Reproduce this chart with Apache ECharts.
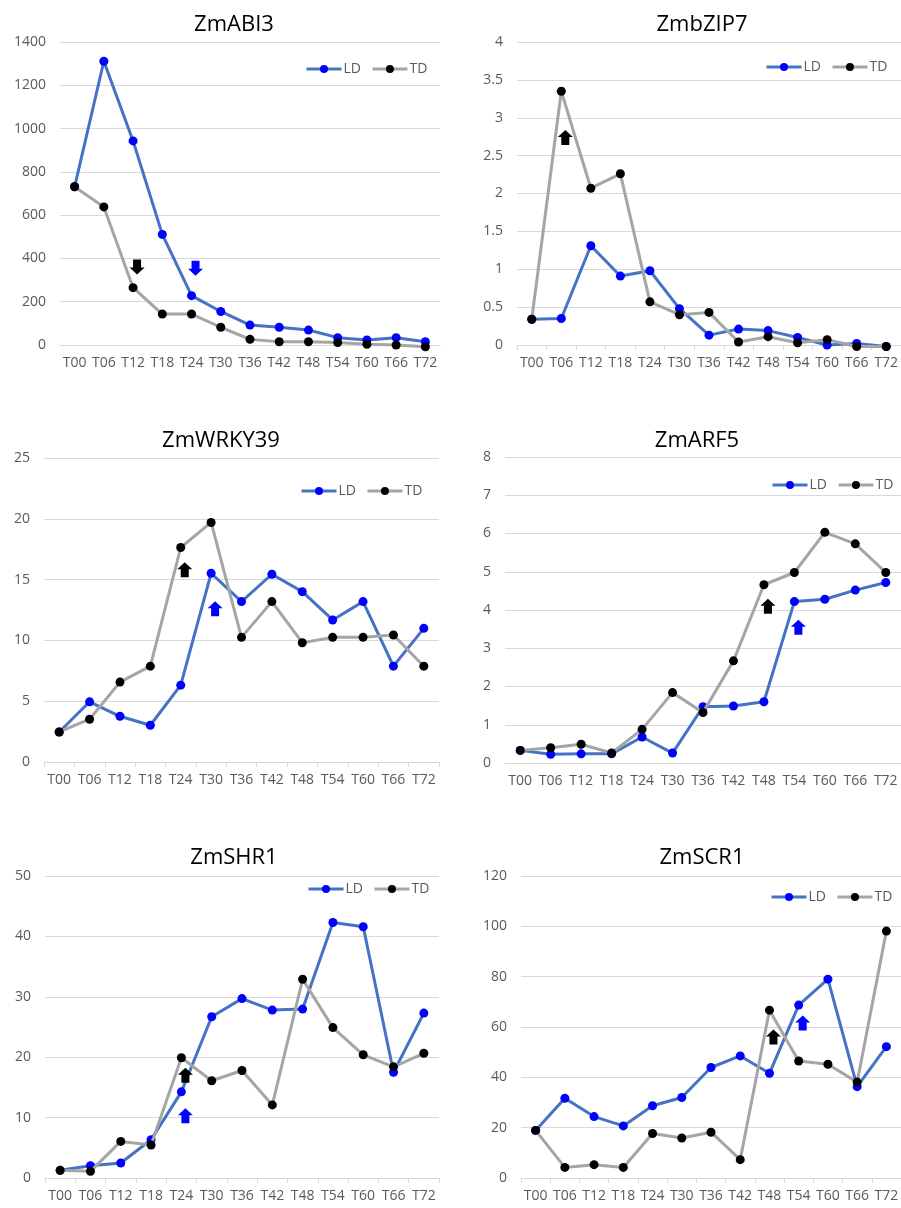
<!DOCTYPE html>
<html><head><meta charset="utf-8">
<script src="https://cdn.jsdelivr.net/npm/echarts@6/dist/echarts.min.js"></script>
<style>html,body{margin:0;padding:0;background:#fff}#c{width:901px;height:1208px}</style>
</head><body><div id="c"></div>
<script>
const categories = ['T00','T06','T12','T18','T24','T30','T36','T42','T48','T54','T60','T66','T72'];
const titles = ['ZmABI3','ZmbZIP7','ZmWRKY39','ZmARF5','ZmSHR1','ZmSCR1'];

const abi3LD = [731,1311,943,511,228,155,92,82,69,34,23,34,15];
const abi3TD = [731,638,265,143,143,82,26,15,15,11,3,0,-8];
const bzip7LD = [0.34,0.35,1.31,0.91,0.98,0.48,0.13,0.21,0.19,0.10,0.00,0.02,-0.02];
const bzip7TD = [0.34,3.35,2.07,2.26,0.57,0.40,0.43,0.04,0.11,0.03,0.07,-0.02,-0.02];
const wrky39LD = [2.47,4.95,3.76,3.02,6.32,15.52,13.19,15.44,14.01,11.68,13.19,7.88,10.99];
const wrky39TD = [2.47,3.52,6.57,7.88,17.64,19.70,10.25,13.19,9.81,10.25,10.25,10.44,7.88];
const arf5LD = [0.33,0.23,0.24,0.24,0.68,0.26,1.47,1.49,1.60,4.22,4.28,4.52,4.72];
const arf5TD = [0.33,0.40,0.49,0.26,0.88,1.84,1.32,2.67,4.66,4.98,6.03,5.73,4.98];
const shr1LD = [1.27,2.04,2.48,6.33,14.26,26.7,29.7,27.8,27.97,42.3,41.6,17.5,27.3];
const shr1TD = [1.27,1.10,6.06,5.45,19.9,16.1,17.8,12.1,32.9,24.9,20.4,18.4,20.65];
const scr1LD = [18.9,31.7,24.4,20.7,28.7,32.0,43.9,48.5,41.6,68.7,79.0,36.3,52.2];
const scr1TD = [18.9,4.2,5.3,4.2,17.7,15.9,18.2,7.3,66.7,46.5,45.2,38.1,98.1];

const yMax = [1400,4,25,8,50,120];
const yStep = [200,0.5,5,1,10,20];

// arrows: [category, value, direction, colour]
const abi3Arrows = [['T12',360,'down','black'],['T24',355,'down','blue']];
const bzip7Arrows = [['T06',2.74,'up','black']];
const wrky39Arrows = [['T24',15.8,'up','black'],['T30',12.6,'up','blue']];
const arf5Arrows = [['T48',4.1,'up','black'],['T54',3.55,'up','blue']];
const shr1Arrows = [['T24',17.0,'up','black'],['T24',10.3,'up','blue']];
const scr1Arrows = [['T48',56,'up','black'],['T54',61.6,'up','blue']];

const ldSets = [abi3LD,bzip7LD,wrky39LD,arf5LD,shr1LD,scr1LD];
const tdSets = [abi3TD,bzip7TD,wrky39TD,arf5TD,shr1TD,scr1TD];
const arrowSets = [abi3Arrows,bzip7Arrows,wrky39Arrows,arf5Arrows,shr1Arrows,scr1Arrows];

const FONT = 'Open Sans';
const grids = [
  {left:60, right:461, top:42, height:303},
  {left:517, right:-7, top:42, height:303},
  {left:44, right:462, top:458, height:304},
  {left:505, right:-7, top:457, height:306},
  {left:45, right:462, top:876, height:302},
  {left:521, right:-7, top:876, height:302}
];
const titlePos = [[229,9],[697,9],[216,425],[692,425],[229,842],[697,842]];
const legendPos = [[305,62],[765,60],[300,484],[771,478],[307,882],[770,890]];
const showTicks = [false,true,true,false,true,true];

const UP = 'path://M7.5,0 L15,7 L11.5,7 L11.5,15 L3.5,15 L3.5,7 L0,7 Z';
const DOWN = 'path://M3.5,0 L11.5,0 L11.5,8 L15,8 L7.5,15 L0,8 L3.5,8 Z';

const option = {
  animation:false,
  backgroundColor:'#fff',
  title: titles.map((t,i)=>({text:t,left:titlePos[i][0],top:titlePos[i][1],textAlign:'center',
    textStyle:{fontFamily:FONT,fontSize:22,fontWeight:'normal',color:'#000'}})),
  legend: legendPos.map(p=>({data:['LD','TD'],left:p[0],top:p[1],width:300,orient:'horizontal',padding:0,
    itemWidth:35,itemHeight:10,itemGap:10,lineStyle:{width:3},
    textStyle:{fontFamily:FONT,fontSize:14,color:'#595959',padding:[0,0,0,-3]}})),
  grid: grids,
  xAxis: grids.map((g,i)=>({type:'category',gridIndex:i,data:categories,boundaryGap:true,
    axisLine:{lineStyle:{color:'#D9D9D9',width:1}},
    axisTick:{show:showTicks[i],length:5,lineStyle:{color:'#D9D9D9'}},
    axisLabel:{fontFamily:FONT,fontSize:14,color:'#595959',margin:11,interval:0}})),
  yAxis: grids.map((g,i)=>({type:'value',gridIndex:i,min:0,max:yMax[i],interval:yStep[i],
    axisLine:{show:false},axisTick:{show:false},
    splitLine:{lineStyle:{color:'#D9D9D9',width:1}},
    axisLabel:{fontFamily:FONT,fontSize:14,color:'#595959',margin:14,formatter:v=>String(v)}})),
  series: []
};
for (let i=0;i<6;i++){
  option.series.push({name:'LD',type:'line',xAxisIndex:i,yAxisIndex:i,data:ldSets[i],
    symbol:'circle',symbolSize:9,clip:false,
    lineStyle:{color:'#4472C4',width:3},itemStyle:{color:'#0000FF'},z:2});
  option.series.push({name:'TD',type:'line',xAxisIndex:i,yAxisIndex:i,data:tdSets[i],
    symbol:'circle',symbolSize:9,clip:false,
    lineStyle:{color:'#A5A5A5',width:3},itemStyle:{color:'#000'},z:3,
    markPoint:{silent:true,label:{show:false},
      data:arrowSets[i].map(a=>({coord:[a[0],a[1]],symbol:a[2]==='up'?UP:DOWN,symbolSize:[15,15],
        symbolKeepAspect:true,symbolOffset:[4,0],itemStyle:{color:a[3]==='blue'?'#0000FF':'#000'}}))}});
}
const chart = echarts.init(document.getElementById('c'),null,{renderer:'canvas'});
chart.setOption(option);
</script></body></html>
